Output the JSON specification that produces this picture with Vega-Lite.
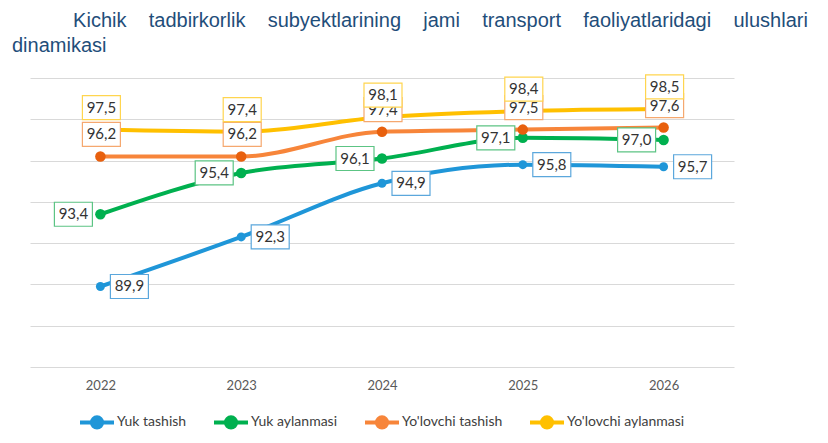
{
  "$schema": "https://vega.github.io/schema/vega-lite/v6.json",
  "width": 704,
  "height": 289,
  "autosize": {"type": "none"},
  "padding": {"left": 30, "top": 78, "right": 94, "bottom": 76},
  "background": "white",
  "title": {
    "text": [
      "\u2060\u00a0\u00a0\u00a0\u00a0\u00a0\u00a0\u00a0\u00a0\u00a0\u00a0\u00a0Kichik\u00a0\u00a0\u00a0\u00a0tadbirkorlik\u00a0\u00a0\u00a0\u00a0subyektlarining\u00a0\u00a0\u00a0\u00a0jami\u00a0\u00a0\u00a0\u00a0transport\u00a0\u00a0\u00a0\u00a0faoliyatlaridagi\u00a0\u00a0\u00a0\u00a0ulushlari",
      "dinamikasi"
    ],
    "anchor": "start",
    "frame": "group",
    "dx": -18,
    "offset": 17,
    "font": "Liberation Sans",
    "fontSize": 20,
    "fontWeight": "normal",
    "lineHeight": 25,
    "color": "#1f4e7a"
  },
  "config": {
    "view": {"stroke": null},
    "locale": {
      "number": {"decimal": ",", "thousands": " ", "grouping": [3], "currency": ["", ""]}
    },
    "axis": {"labelFont": "Lato", "labelColor": "#595959"},
    "legend": {"labelFont": "Lato"}
  },
  "data": {
    "values": [
      {"year": "2022", "series": "Yuk tashish", "value": 89.9},
      {"year": "2023", "series": "Yuk tashish", "value": 92.3},
      {"year": "2024", "series": "Yuk tashish", "value": 94.9},
      {"year": "2025", "series": "Yuk tashish", "value": 95.8},
      {"year": "2026", "series": "Yuk tashish", "value": 95.7},
      {"year": "2022", "series": "Yuk aylanmasi", "value": 93.4},
      {"year": "2023", "series": "Yuk aylanmasi", "value": 95.4},
      {"year": "2024", "series": "Yuk aylanmasi", "value": 96.1},
      {"year": "2025", "series": "Yuk aylanmasi", "value": 97.1},
      {"year": "2026", "series": "Yuk aylanmasi", "value": 97.0},
      {"year": "2022", "series": "Yo'lovchi tashish", "value": 96.2},
      {"year": "2023", "series": "Yo'lovchi tashish", "value": 96.2},
      {"year": "2024", "series": "Yo'lovchi tashish", "value": 97.4},
      {"year": "2025", "series": "Yo'lovchi tashish", "value": 97.5},
      {"year": "2026", "series": "Yo'lovchi tashish", "value": 97.6},
      {"year": "2022", "series": "Yo'lovchi aylanmasi", "value": 97.5},
      {"year": "2023", "series": "Yo'lovchi aylanmasi", "value": 97.4},
      {"year": "2024", "series": "Yo'lovchi aylanmasi", "value": 98.1},
      {"year": "2025", "series": "Yo'lovchi aylanmasi", "value": 98.4},
      {"year": "2026", "series": "Yo'lovchi aylanmasi", "value": 98.5}
    ]
  },
  "encoding": {
    "x": {
      "field": "year",
      "type": "ordinal",
      "title": null,
      "scale": {"type": "point", "padding": 0.5},
      "axis": {
        "labelAngle": 0,
        "domain": false,
        "ticks": false,
        "grid": false,
        "labelFontSize": 13,
        "labelPadding": 12
      }
    },
    "y": {
      "field": "value",
      "type": "quantitative",
      "title": null,
      "scale": {"domain": [86, 100], "nice": false, "zero": false},
      "axis": {
        "values": [86, 88, 90, 92, 94, 96, 98, 100],
        "labels": false,
        "ticks": false,
        "domain": false,
        "gridColor": "#d9d9d9",
        "gridWidth": 1
      }
    }
  },
  "layer": [
    {
      "mark": {"type": "line", "strokeWidth": 4, "interpolate": "monotone"},
      "encoding": {
        "color": {
          "field": "series",
          "type": "nominal",
          "scale": {
            "domain": ["Yuk tashish", "Yuk aylanmasi", "Yo'lovchi tashish", "Yo'lovchi aylanmasi"],
            "range": ["#1f96d8", "#00b04f", "#f7853a", "#ffc000"]
          },
          "legend": {
            "title": null,
            "orient": "none",
            "direction": "horizontal",
            "legendX": 48,
            "legendY": 325,
            "symbolType": "M-1,0H1M-0.3,0A0.3,0.3,0,1,0,0.3,0A0.3,0.3,0,1,0,-0.3,0Z",
            "symbolSize": 1156,
            "symbolStrokeWidth": 4,
            "labelFontSize": 14,
            "labelColor": "#404040",
            "labelOffset": 1,
            "columnPadding": 19,
            "encode": {
              "symbols": {
                "update": {
                  "fill": {"scale": "color", "field": "value"},
                  "stroke": {"scale": "color", "field": "value"},
                  "opacity": {"value": 1}
                }
              }
            }
          }
        },
        "detail": {"field": "series"}
      }
    },
    {
      "transform": [{"filter": "datum.series == 'Yuk tashish'"}],
      "mark": {"type": "point", "filled": true, "size": 80, "opacity": 1, "color": "#1f96d8"}
    },
    {
      "transform": [{"filter": "datum.series == 'Yuk aylanmasi'"}],
      "mark": {"type": "point", "filled": true, "size": 110, "opacity": 1, "color": "#00b04f"}
    },
    {
      "transform": [{"filter": "datum.series == \"Yo'lovchi tashish\""}],
      "mark": {"type": "point", "filled": true, "size": 110, "opacity": 1, "color": "#e8600e"}
    },
    {
      "transform": [{"filter": "datum.series == 'Yuk tashish'"}],
      "mark": {
        "type": "point",
        "shape": "M1,-1.2H4.8V1.2H1Z",
        "size": 400,
        "filled": false,
        "fill": "white",
        "fillOpacity": 1,
        "stroke": "#5ba7dc",
        "strokeWidth": 1.2,
        "opacity": 1
      }
    },
    {
      "transform": [{"filter": "datum.series == 'Yuk tashish'"}],
      "mark": {"type": "text", "font": "Lato", "fontSize": 15, "color": "#333333", "dx": 29, "align": "center", "baseline": "middle"},
      "encoding": {"text": {"field": "value", "type": "quantitative", "format": ".1f"}}
    },
    {
      "transform": [{"filter": "datum.series == 'Yuk aylanmasi'"}],
      "mark": {
        "type": "point",
        "shape": "M-4.6,-1.2H-0.8V1.2H-4.6Z",
        "size": 400,
        "filled": false,
        "fill": "white",
        "fillOpacity": 1,
        "stroke": "#5cc484",
        "strokeWidth": 1.2,
        "opacity": 1
      }
    },
    {
      "transform": [{"filter": "datum.series == 'Yuk aylanmasi'"}],
      "mark": {"type": "text", "font": "Lato", "fontSize": 15, "color": "#333333", "dx": -27, "align": "center", "baseline": "middle"},
      "encoding": {"text": {"field": "value", "type": "quantitative", "format": ".1f"}}
    },
    {
      "transform": [{"filter": "datum.series == \"Yo'lovchi tashish\""}],
      "mark": {
        "type": "point",
        "shape": "M-1.8,-3.4H2V-1H-1.8Z",
        "size": 400,
        "filled": false,
        "fill": "white",
        "fillOpacity": 1,
        "stroke": "#f5a86f",
        "strokeWidth": 1.2,
        "opacity": 1
      }
    },
    {
      "transform": [{"filter": "datum.series == \"Yo'lovchi tashish\""}],
      "mark": {"type": "text", "font": "Lato", "fontSize": 15, "color": "#333333", "dx": 1, "dy": -22, "align": "center", "baseline": "middle"},
      "encoding": {"text": {"field": "value", "type": "quantitative", "format": ".1f"}}
    },
    {
      "transform": [{"filter": "datum.series == \"Yo'lovchi aylanmasi\""}],
      "mark": {
        "type": "point",
        "shape": "M-1.8,-3.4H2V-1H-1.8Z",
        "size": 400,
        "filled": false,
        "fill": "white",
        "fillOpacity": 1,
        "stroke": "#ffd54f",
        "strokeWidth": 1.2,
        "opacity": 1
      }
    },
    {
      "transform": [{"filter": "datum.series == \"Yo'lovchi aylanmasi\""}],
      "mark": {"type": "text", "font": "Lato", "fontSize": 15, "color": "#333333", "dx": 1, "dy": -22, "align": "center", "baseline": "middle"},
      "encoding": {"text": {"field": "value", "type": "quantitative", "format": ".1f"}}
    }
  ]
}
